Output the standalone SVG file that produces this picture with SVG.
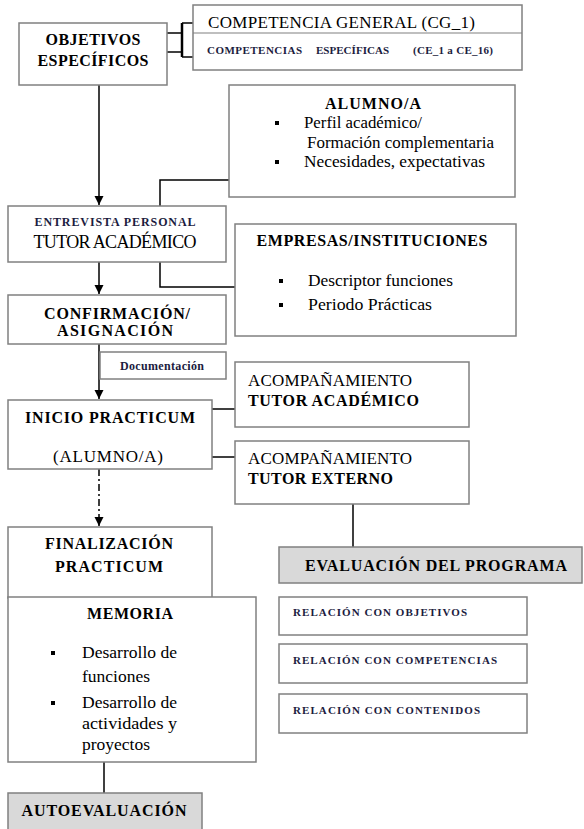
<svg xmlns="http://www.w3.org/2000/svg" width="584" height="829" viewBox="0 0 584 829" font-family="'Liberation Serif', 'DejaVu Serif', serif">
<defs>
<marker id="arr" markerUnits="userSpaceOnUse" markerWidth="10" markerHeight="10" refX="9" refY="5" orient="auto">
<path d="M0,0.5 L9,5 L0,9.5 Z" fill="#000"/>
</marker>
<style>
.box{fill:#fff;stroke:#808080;stroke-width:1.5}
.gray{fill:#d9d9d9;stroke:#808080;stroke-width:1.5}
.c{fill:none;stroke:#000;stroke-width:1.5}
text{font-family:'Liberation Serif','DejaVu Serif',serif;fill:#000}
.b{font-weight:bold;font-size:16px}
.r{font-size:16px}
.s{font-weight:bold;font-size:11px;fill:#1c1c40}
.m{text-anchor:middle}
.bul{fill:#000}
</style>
</defs>
<rect width="584" height="829" fill="#fff"/>

<g id="connectors">
<line class="c" x1="99" y1="85" x2="99" y2="205" marker-end="url(#arr)"/>
<line class="c" x1="167" y1="33" x2="182" y2="33"/>
<line class="c" x1="167" y1="52" x2="182" y2="52"/>
<line x1="182" y1="23" x2="182" y2="57" stroke="#000" stroke-width="2.5"/>
<line class="c" x1="182" y1="23" x2="193" y2="23"/>
<line class="c" x1="182" y1="57" x2="193" y2="57"/>
<polyline class="c" points="229,180 160,180 160,206"/>
<polyline class="c" points="160,262 160,287 235,287"/>
<line class="c" x1="99" y1="262" x2="99" y2="294" marker-end="url(#arr)"/>
<line class="c" x1="99" y1="344" x2="99" y2="399" marker-end="url(#arr)"/>
<line class="c" x1="212" y1="409" x2="235" y2="409"/>
<line class="c" x1="212" y1="457" x2="235" y2="457"/>
<line class="c" x1="99" y1="469" x2="99" y2="526" stroke-dasharray="7 3 2 3" marker-end="url(#arr)"/>
<line class="c" x1="353" y1="504" x2="353" y2="547"/>
<line class="c" x1="104" y1="762" x2="104" y2="793"/>
</g>

<g id="objetivos">
<rect class="box" x="19" y="23" width="148" height="62"/>
<text class="b m" x="93" y="44.5" textLength="95" lengthAdjust="spacing">OBJETIVOS</text>
<text class="b m" x="93" y="65.5" textLength="111" lengthAdjust="spacing">ESPECÍFICOS</text>
</g>

<g id="competencias">
<rect class="box" x="193" y="5" width="329" height="65"/>
<line x1="193" y1="33" x2="522" y2="33" stroke="#808080" stroke-width="1.2"/>
<text class="r" x="208" y="28" textLength="267" lengthAdjust="spacing" style="font-size:17px">COMPETENCIA GENERAL (CG_1)</text>
<text class="s" y="54"><tspan x="207" textLength="95" lengthAdjust="spacing">COMPETENCIAS</tspan><tspan x="316" textLength="73" lengthAdjust="spacing">ESPECÍFICAS</tspan><tspan x="413" textLength="80" lengthAdjust="spacing">(CE_1 a CE_16)</tspan></text>
</g>

<g id="alumno">
<rect class="box" x="229" y="85" width="286" height="112"/>
<text class="b m" x="373" y="108.5" textLength="96" lengthAdjust="spacing">ALUMNO/A</text>
<rect class="bul" x="275" y="121" width="4" height="4"/>
<text class="r" x="304" y="128" textLength="118" lengthAdjust="spacingAndGlyphs">Perfil académico/</text>
<text class="r" x="307" y="148" textLength="187" lengthAdjust="spacingAndGlyphs">Formación complementaria</text>
<rect class="bul" x="275" y="160" width="4" height="4"/>
<text class="r" x="304" y="167" textLength="181" lengthAdjust="spacingAndGlyphs">Necesidades, expectativas</text>
</g>

<g id="entrevista">
<rect class="box" x="8" y="206" width="218" height="56"/>
<text class="s m" x="115" y="226" textLength="161" lengthAdjust="spacing" style="font-size:12px">ENTREVISTA PERSONAL</text>
<text class="m" x="115" y="248" textLength="163" lengthAdjust="spacing" style="font-size:18px">TUTOR ACADÉMICO</text>
</g>

<g id="empresas">
<rect class="box" x="235" y="224" width="281" height="112"/>
<text class="b m" x="372" y="245.5" textLength="231" lengthAdjust="spacing">EMPRESAS/INSTITUCIONES</text>
<rect class="bul" x="279" y="279" width="4" height="4"/>
<text class="r" x="308" y="286" textLength="145" lengthAdjust="spacingAndGlyphs">Descriptor funciones</text>
<rect class="bul" x="279" y="303" width="4" height="4"/>
<text class="r" x="308" y="310" textLength="124" lengthAdjust="spacingAndGlyphs">Periodo Prácticas</text>
</g>

<g id="confirmacion">
<rect class="box" x="8" y="295" width="218" height="49"/>
<text class="b m" x="117" y="318.5" textLength="146" lengthAdjust="spacing">CONFIRMACIÓN/</text>
<text class="b m" x="115" y="335.5" textLength="116" lengthAdjust="spacing">ASIGNACIÓN</text>
</g>

<g id="documentacion">
<rect class="box" x="100" y="352" width="126" height="27"/>
<text class="s m" x="162" y="370" textLength="84" lengthAdjust="spacing" style="font-size:12px">Documentación</text>
</g>

<g id="inicio">
<rect class="box" x="8" y="400" width="204" height="69"/>
<text class="b m" x="110" y="422.5" textLength="170" lengthAdjust="spacing">INICIO PRACTICUM</text>
<text class="r m" x="108" y="462" textLength="110" lengthAdjust="spacing" style="font-size:17px">(ALUMNO/A)</text>
</g>

<g id="acomp-academico">
<rect class="box" x="235" y="362" width="234" height="65"/>
<text class="r" x="248" y="385.5" textLength="164" lengthAdjust="spacing" style="font-size:17px">ACOMPAÑAMIENTO</text>
<text class="b" x="248" y="405.5" textLength="171" lengthAdjust="spacing">TUTOR ACADÉMICO</text>
</g>

<g id="acomp-externo">
<rect class="box" x="235" y="441" width="234" height="63"/>
<text class="r" x="248" y="463.5" textLength="164" lengthAdjust="spacing" style="font-size:17px">ACOMPAÑAMIENTO</text>
<text class="b" x="248" y="483.5" textLength="145" lengthAdjust="spacing">TUTOR EXTERNO</text>
</g>

<g id="evaluacion">
<rect class="gray" x="279" y="547" width="303" height="36"/>
<text class="b m" x="436" y="570.5" textLength="262" lengthAdjust="spacing">EVALUACIÓN DEL PROGRAMA</text>
</g>

<g id="finalizacion">
<rect class="box" x="8" y="527" width="204" height="71"/>
<text class="b m" x="109" y="548.5" textLength="128" lengthAdjust="spacing">FINALIZACIÓN</text>
<text class="b m" x="109" y="571.5" textLength="108" lengthAdjust="spacing">PRACTICUM</text>
</g>

<g id="memoria">
<rect class="box" x="8" y="597" width="248" height="165"/>
<text class="b m" x="130" y="618.5" textLength="86" lengthAdjust="spacing">MEMORIA</text>
<rect class="bul" x="51" y="651" width="4" height="4"/>
<text class="r" x="82" y="658" textLength="95" lengthAdjust="spacingAndGlyphs">Desarrollo de</text>
<text class="r" x="82" y="682" textLength="68" lengthAdjust="spacingAndGlyphs">funciones</text>
<rect class="bul" x="51" y="701" width="4" height="4"/>
<text class="r" x="82" y="708" textLength="95" lengthAdjust="spacingAndGlyphs">Desarrollo de</text>
<text class="r" x="82" y="729" textLength="95" lengthAdjust="spacingAndGlyphs">actividades y</text>
<text class="r" x="82" y="750" textLength="68" lengthAdjust="spacingAndGlyphs">proyectos</text>
</g>

<g id="autoevaluacion">
<rect class="gray" x="8" y="793" width="194" height="42"/>
<text class="b m" x="104" y="815.5" textLength="165" lengthAdjust="spacing">AUTOEVALUACIÓN</text>
</g>

<g id="rel-objetivos">
<rect class="box" x="279" y="597" width="248" height="38"/>
<text class="s" x="293" y="616" textLength="174" lengthAdjust="spacing">RELACIÓN  CON  OBJETIVOS</text>
</g>
<g id="rel-competencias">
<rect class="box" x="279" y="644" width="248" height="39"/>
<text class="s" x="293" y="664" textLength="204" lengthAdjust="spacing">RELACIÓN  CON  COMPETENCIAS</text>
</g>
<g id="rel-contenidos">
<rect class="box" x="279" y="694" width="248" height="39"/>
<text class="s" x="293" y="714" textLength="187" lengthAdjust="spacing">RELACIÓN  CON  CONTENIDOS</text>
</g>
</svg>
